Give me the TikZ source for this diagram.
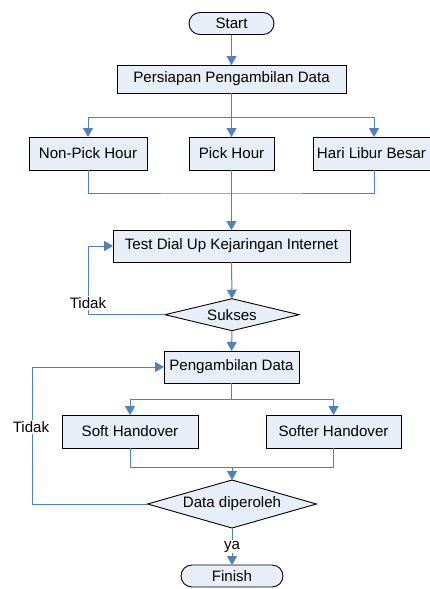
\documentclass[tikz,border=0pt]{standalone}
\usepackage{fontspec}
\setmainfont{Liberation Sans}
\usetikzlibrary{shapes.geometric,arrows.meta}
\definecolor{flow}{RGB}{79,129,189}
\definecolor{boxfill}{RGB}{232,238,247}
\begin{document}
\begin{tikzpicture}[x=1pt,y=-1pt,
  font=\fontsize{15.1}{17}\selectfont,
  every node/.style={inner sep=0pt, outer sep=0pt},
  procbox/.style={draw=black, fill=boxfill, line width=0.9pt, rectangle},
  termbox/.style={draw=black, fill=boxfill, line width=0.9pt, rectangle, rounded corners=11pt},
  decide/.style={draw=black, fill=boxfill, line width=0.9pt, diamond},
  link/.style={draw=flow, line width=1pt},
  trunk/.style={link, line width=1.4pt},
  arrowlink/.style={link, -{Triangle[width=10pt,length=9pt]}},
  lbl/.style={fill=white, inner sep=1pt}
]
\useasboundingbox (0,0) rectangle (430,589);

% process steps
\node[termbox, minimum width=85pt, minimum height=22pt] (start) at (231.5,23.5) {Start};
\node[procbox, minimum width=229pt, minimum height=28pt] (prep) at (231.5,79) {Persiapan Pengambilan Data};
\node[procbox, minimum width=118pt, minimum height=33pt] (nph) at (88,153.5) {Non-Pick Hour};
\node[procbox, minimum width=85pt, minimum height=33pt] (ph) at (231.5,153.5) {Pick Hour};
\node[procbox, minimum width=117pt, minimum height=33pt] (hlb) at (371.5,153.5) {Hari Libur Besar};
\node[procbox, minimum width=237pt, minimum height=32pt] (test) at (231.5,246) {Test Dial Up Kejaringan Internet};
\node[decide, minimum width=134pt, minimum height=32pt, aspect=4.19] (sukses) at (232,314.7) {Sukses};
\node[procbox, minimum width=135pt, minimum height=32pt] (peng) at (231.5,367) {Pengambilan Data};
\node[procbox, minimum width=136pt, minimum height=33pt] (soft) at (130,431.5) {Soft Handover};
\node[procbox, minimum width=135pt, minimum height=33pt] (softer) at (333.5,431.5) {Softer Handover};
\node[decide, minimum width=169pt, minimum height=48pt, aspect=3.52] (dd) at (232,504) {Data diperoleh};
\node[termbox, minimum width=102pt, minimum height=22pt] (fin) at (232,576) {Finish};

% junctions
\coordinate (s1) at (231.5,117);
\coordinate (m1) at (231.5,193);
\coordinate (s2) at (231.5,399.3);
\coordinate (m2) at (232,467.3);
\coordinate (loopB) at (32,504);

% connectors
\draw[arrowlink] (start) -- (prep);
\draw[trunk] (prep) -- (s1);
\draw[arrowlink] (s1) -| (nph);
\draw[arrowlink] (s1) -- (ph);
\draw[arrowlink] (s1) -| ([xshift=2.5pt]hlb.north);
\draw[link] (nph) |- (m1) -| ([xshift=2.5pt]hlb.south);
\draw[link] (ph) -- (m1);
\draw[arrowlink, line width=1.4pt] (m1) -- (test);
\draw[arrowlink] (test) -- (sukses);
\draw[arrowlink] (sukses.west) -- (sukses.west -| nph.south) |- (test.west);
\draw[arrowlink] (sukses) -- (peng);
\draw[link] (peng) -- (s2);
\draw[arrowlink] (s2) -| (soft);
\draw[arrowlink] (s2) -| (softer);
\draw[link] (soft) |- (m2) -| (softer);
\draw[arrowlink] (m2) -- (dd);
\draw[arrowlink] (dd.west) -- (loopB) |- (peng.west);
\draw[arrowlink] (dd.south) -- (fin.north);

% branch labels
\node[lbl] (no1) at (88,303) {Tidak};
\node[lbl] (no2) at (31,427) {Tidak};
\node[lbl] (yes) at (232,546.5) {ya};
\end{tikzpicture}
\end{document}
